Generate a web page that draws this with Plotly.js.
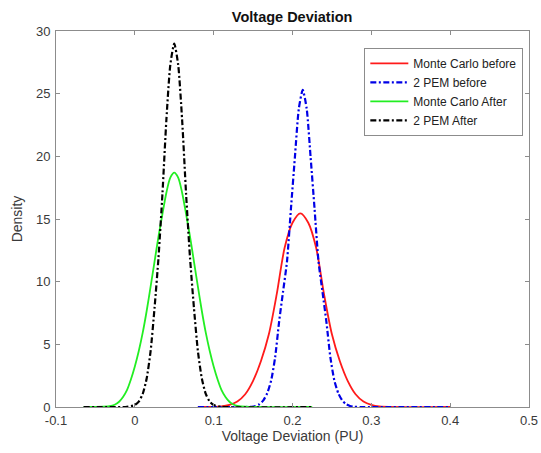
<!DOCTYPE html>
<html>
<head>
<meta charset="utf-8">
<script src="https://cdn.plot.ly/plotly-3.0.1.min.js"></script>
<style>html,body{margin:0;padding:0;background:#fff;}#chart{width:541px;height:453px;}</style>
</head>
<body>
<div id="chart"></div>
<script>
// Monte Carlo before (red, solid)
var mcBeforeX = [0.08, 0.11, 0.12, 0.13, 0.14, 0.15, 0.16, 0.17, 0.18, 0.19, 0.20, 0.21, 0.22, 0.23, 0.24, 0.25, 0.26, 0.27, 0.28, 0.29, 0.30, 0.31, 0.40];
var mcBeforeY = [0, 0.05, 0.17, 0.44, 1.02, 2.09, 3.67, 5.8, 9.0, 12.7, 14.7, 15.45, 14.7, 12.7, 9.0, 5.8, 3.67, 2.09, 1.02, 0.44, 0.17, 0.05, 0];

// 2 PEM before (blue, dash-dot)
var pemBeforeX = [0.08, 0.14, 0.148, 0.153, 0.158, 0.163, 0.168, 0.173, 0.178, 0.183, 0.188, 0.193, 0.198, 0.203, 0.208, 0.213, 0.218, 0.223, 0.228, 0.233, 0.238, 0.243, 0.248, 0.253, 0.258, 0.263, 0.268, 0.273, 0.278, 0.286, 0.40];
var pemBeforeY = [0, 0, 0.02, 0.08, 0.22, 0.53, 1.11, 2.14, 3.98, 6.8, 9.2, 11.6, 15.8, 19.9, 23.8, 25.3, 23.8, 19.9, 15.8, 11.6, 9.2, 6.8, 3.98, 2.14, 1.11, 0.53, 0.22, 0.08, 0.02, 0, 0];

// Monte Carlo After (green, solid)
var mcAfterX = [-0.065, -0.04, -0.03, -0.025, -0.02, -0.015, -0.01, -0.005, 0.0, 0.005, 0.01, 0.015, 0.02, 0.025, 0.03, 0.035, 0.04, 0.045, 0.05, 0.055, 0.06, 0.065, 0.07, 0.075, 0.08, 0.085, 0.09, 0.095, 0.10, 0.105, 0.11, 0.115, 0.12, 0.125, 0.13, 0.14, 0.225];
var mcAfterY = [0, 0.02, 0.09, 0.2, 0.42, 0.8, 1.35, 2.2, 3.24, 4.47, 5.93, 7.66, 9.6, 11.6, 13.6, 15.4, 17.1, 18.3, 18.7, 18.3, 17.1, 15.4, 13.6, 11.6, 9.6, 7.66, 5.93, 4.47, 3.24, 2.2, 1.35, 0.8, 0.42, 0.2, 0.09, 0.02, 0];

// 2 PEM After (black, dash-dot)
var pemAfterX = [-0.065, -0.01, 0.0, 0.005, 0.01, 0.015, 0.02, 0.025, 0.03, 0.035, 0.04, 0.045, 0.05, 0.055, 0.06, 0.065, 0.07, 0.075, 0.08, 0.085, 0.09, 0.095, 0.10, 0.11, 0.225];
var pemAfterY = [0, 0.01, 0.16, 0.43, 1.04, 2.27, 4.45, 7.9, 11.9, 17.0, 22.9, 27.3, 29.0, 27.3, 22.9, 17.0, 11.9, 7.9, 4.45, 2.27, 1.04, 0.43, 0.16, 0.01, 0];

var seriesNames = ["Monte Carlo before", "2 PEM before", "Monte Carlo After", "2 PEM After"];
var xTickVals = [-0.1, 0, 0.1, 0.2, 0.3, 0.4, 0.5];
var xTickText = ["-0.1", "0", "0.1", "0.2", "0.3", "0.4", "0.5"];
var yTickVals = [0, 5, 10, 15, 20, 25, 30];

var dd = "6px,2.5px,2px,2.5px";
var FONT = "Liberation Sans, Arial, sans-serif";
var traces = [
  {x: mcBeforeX, y: mcBeforeY, name: seriesNames[0], mode: "lines", line: {color: "#ff1a1a", width: 1.8, shape: "spline", smoothing: 0.8}},
  {x: pemBeforeX, y: pemBeforeY, name: seriesNames[1], mode: "lines", line: {color: "#0000e6", width: 2.2, dash: dd, shape: "spline", smoothing: 0.6}},
  {x: mcAfterX, y: mcAfterY, name: seriesNames[2], mode: "lines", line: {color: "#22ee22", width: 1.8, shape: "spline", smoothing: 0.8}},
  {x: pemAfterX, y: pemAfterY, name: seriesNames[3], mode: "lines", line: {color: "#000000", width: 2.2, dash: dd, shape: "spline", smoothing: 0.6}}
];

var axisCommon = {
  showgrid: false, zeroline: false, showline: true, linecolor: "#8c8c8c", linewidth: 1,
  mirror: "ticks", ticks: "inside", ticklen: 4, tickcolor: "#8c8c8c",
  tickfont: {family: FONT, size: 13, color: "#3a3a3a"}
};

var layout = {
  width: 541, height: 453,
  margin: {l: 56, r: 12, t: 31, b: 46},
  paper_bgcolor: "#fff", plot_bgcolor: "#fff",
  showlegend: true,
  title: {text: "<b>Voltage Deviation</b>", font: {family: FONT, size: 14.5, color: "#111"},
          x: 0.54, xanchor: "center", y: 0.962, yanchor: "middle", xref: "container", yref: "container"},
  xaxis: Object.assign({}, axisCommon, {
    range: [-0.1, 0.5], tickvals: xTickVals, ticktext: xTickText, ticklabelstandoff: 1,
    title: {text: "Voltage Deviation (PU)", standoff: 4, font: {family: FONT, size: 14, color: "#3a3a3a"}}
  }),
  yaxis: Object.assign({}, axisCommon, {
    range: [0, 30], tickvals: yTickVals, ticklabelstandoff: 2,
    title: {text: "Density", standoff: 10, font: {family: FONT, size: 14, color: "#3a3a3a"}}
  }),
  legend: {
    x: 0.988, y: 0.955, xanchor: "right", yanchor: "top",
    bgcolor: "#fff", bordercolor: "#8c8c8c", borderwidth: 1,
    font: {family: FONT, size: 12, color: "#222"},
    tracegroupgap: 0, itemwidth: 38
  }
};

Plotly.newPlot("chart", traces, layout, {displayModeBar: false, staticPlot: true});
</script>
</body>
</html>
